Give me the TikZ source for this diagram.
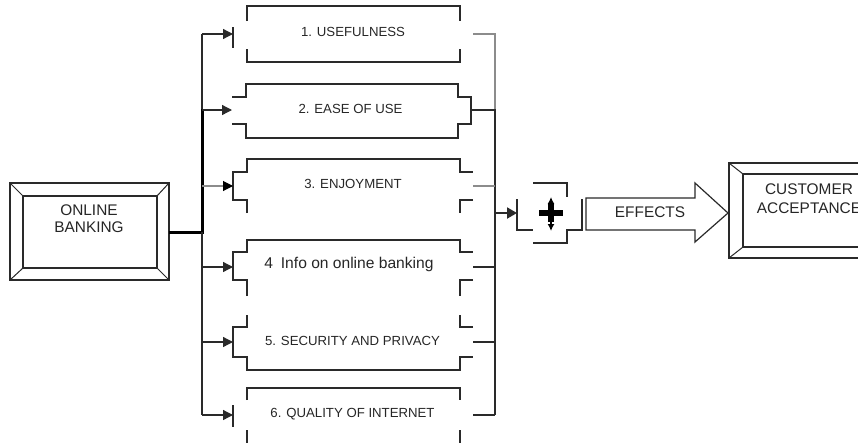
\documentclass[tikz,border=0pt]{standalone}
\usepackage{fontspec}
\setmainfont{Liberation Sans}
\usetikzlibrary{arrows.meta}
\definecolor{ink}{HTML}{2A2A2A}
\definecolor{lgray}{HTML}{8C8C8C}
\begin{document}
\begin{tikzpicture}[x=1pt,y=-1pt,
  ln/.style={draw=ink,line width=1.3pt},
  gl/.style={draw=lgray,line width=1.1pt},
  bus/.style={draw=black,line width=3pt},
  arr/.style={draw=ink,line width=1.3pt,-{Triangle[length=10pt,width=10pt]}},
  lbl/.style={font=\fontsize{13.2}{15}\selectfont,text=black!85,inner sep=0pt,anchor=base},
  big/.style={font=\fontsize{15.4}{19}\selectfont,text=black!85,inner sep=0pt,anchor=base},
  frame/.style={draw=ink,line width=1.2pt,fill=white}]
\useasboundingbox (0,0) rectangle (858,442);
\clip (0,0) rectangle (858,442);

% ---------- ONLINE BANKING box ----------
\draw[frame] (10,183) rectangle (169,280);
\draw[frame] (23,196) rectangle (157,268);
\draw[ln,line width=1pt] (10,183)--(23,196) (169,183)--(157,196) (10,280)--(23,268) (169,280)--(157,268);
\node[big] (ob1) at (89,215) {ONLINE};
\node[big] (ob2) at (89,232) {BANKING};
\coordinate (src) at (169,232);

% ---------- CUSTOMER ACCEPTANCE box ----------
\draw[frame] (729,163) rectangle (889,258);
\draw[frame] (743,174) rectangle (875,247);
\draw[ln,line width=1pt] (729,163)--(743,174) (889,163)--(875,174) (729,258)--(743,247) (889,258)--(875,247);
\node[big] (ca1) at (809,194) {CUSTOMER};
\node[big] (ca2) at (809,213) {ACCEPTANCE};

% ---------- factor boxes ----------
% box 1
\draw[ln] (247,21)--(247,6)--(460,6)--(460,21);
\draw[ln] (247,49)--(247,62)--(460,62)--(460,49);
\draw[ln] (233,27)--(233,48);
\node[lbl] (t1) at (353,36.7) {1. USEFULNESS};
% box 2
\draw[ln] (232,97)--(246,97)--(246,84)--(458,84)--(458,97)--(471,97)--(471,124)--(458,124)--(458,138)--(246,138)--(246,124)--(232,124);
\node[lbl] (t2) at (350.5,113) {2. EASE OF USE};
% box 3
\draw[ln] (247,213)--(247,200)--(233,200)--(233,172)--(247,172)--(247,159)--(460,159)--(460,172)--(473,172);
\draw[ln] (473,200)--(460,200)--(460,213);
\node[lbl] (t3) at (353,188.5) {3. ENJOYMENT};
% box 4
\draw[ln] (247,296)--(247,280)--(233,280)--(233,252)--(247,252)--(247,240)--(460,240)--(460,252)--(473,252);
\draw[ln] (473,280)--(460,280)--(460,296);
\node[lbl,font=\fontsize{15.6}{18}\selectfont] (t4) at (349,268) {4\enspace Info on online banking};
% box 5
\draw[ln] (247,315)--(247,327)--(233,327)--(233,357)--(247,357)--(247,370)--(460,370)--(460,357)--(473,357);
\draw[ln] (473,327)--(460,327)--(460,315);
\node[lbl] (t5) at (352.5,345) {5. SECURITY AND PRIVACY};
% box 6
\draw[ln] (247,400)--(247,388)--(460,388)--(460,400);
\draw[ln] (247,430)--(247,444)--(460,444)--(460,430);
\draw[ln] (233,405)--(233,427);
\node[lbl] (t6) at (352.5,417) {6. QUALITY OF INTERNET};

% ---------- left distribution bus ----------
\coordinate (j1) at (202,34);  \coordinate (in1) at (233,34);
\coordinate (j2) at (202,110); \coordinate (in2) at (232,110);
\coordinate (j3) at (202,186); \coordinate (in3) at (233,186);
\coordinate (jm) at (202,232);
\coordinate (j4) at (202,267); \coordinate (in4) at (233,267);
\coordinate (j5) at (202,342); \coordinate (in5) at (233,342);
\coordinate (j6) at (202,415); \coordinate (in6) at (233,415);
\draw[ln] (j1)--(j2);
\draw[bus] (src)--(jm)--([yshift=1.5pt]j2);
\draw[ln] (jm)--(j6);
\draw[arr] (j1)--(in1);
\draw[arr] (j2)--(in2);
\draw[arr,draw=lgray,line width=1.1pt,-{Triangle[length=10pt,width=10pt,color=black]}] (j3)--(in3);
\draw[arr] (j4)--(in4);
\draw[arr] (j5)--(in5);
\draw[arr] (j6)--(in6);

% ---------- right collecting bus ----------
\coordinate (o1) at (473,34);  \coordinate (r1) at (495,34);
\coordinate (o2) at (471,110); \coordinate (r2) at (495,110);
\coordinate (o3) at (473,186); \coordinate (r3) at (495,186);
\coordinate (rp) at (495,213);
\coordinate (o4) at (473,267); \coordinate (r4) at (495,267);
\coordinate (o5) at (473,342); \coordinate (r5) at (495,342);
\coordinate (o6) at (473,415); \coordinate (r6) at (495,415);
\coordinate (pin) at (517,213);
\draw[gl] (o1)--(r1)--(r2);
\draw[ln,line width=2.2pt] (o2)--(r2)--(rp);
\draw[gl] (o3)--(r3);
\draw[ln] (rp)--(r6);
\draw[ln] (o4)--(r4);
\draw[ln] (o5)--(r5);
\draw[ln] (o6)--(r6);
\draw[arr,line width=2pt,-{Triangle[length=10pt,width=11pt]}] (rp)--(pin);

% ---------- plus box ----------
\draw[ln] (517,199)--(517,230)--(533,230);
\draw[ln] (533,183)--(567,183)--(567,197);
\draw[ln] (533,243)--(567,243)--(567,230)--(582,230)--(582,199);
\node[inner sep=0pt,minimum size=0pt] (plus) at (551,213) {};
\draw[black,line width=6pt] (539,213)--(563,213);
\draw[black,line width=6pt] (551,204)--(551,222);
\draw[black,line width=1.8pt,{Latex[length=7pt,width=7pt]}-{Latex[length=7pt,width=7pt]}] (551,197)--(551,231);

% ---------- EFFECTS arrow ----------
\draw[frame,draw=ink] (586,198)--(695,198)--(695,183)--(728,213)--(695,242)--(695,230)--(586,230)--cycle;
\node[big] (eff) at (650,217) {EFFECTS};
\end{tikzpicture}
\end{document}
